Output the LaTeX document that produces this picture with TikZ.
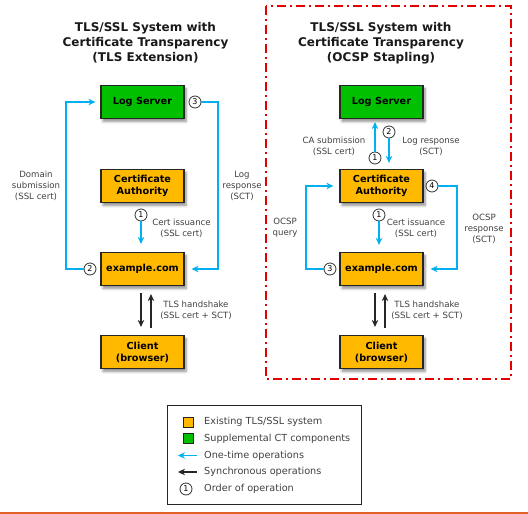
\documentclass[tikz,border=0pt]{standalone}
\usepackage{fontspec}
\setmainfont{DejaVu Sans}
\usetikzlibrary{arrows.meta,shadows,shadows.blur}
\definecolor{ctgreen}{RGB}{0,192,0}
\definecolor{ctorange}{RGB}{255,186,0}
\definecolor{ctblue}{RGB}{0,176,240}
\definecolor{ctred}{RGB}{228,0,0}
\definecolor{ctline}{RGB}{224,96,40}
\definecolor{txt}{RGB}{64,64,64}
\begin{document}
\begin{tikzpicture}[x=1pt,y=-1pt,
  box/.style={draw=black!85, line width=1.2pt, minimum width=83pt, minimum height=33pt,
    inner sep=0pt, align=center, font=\fontsize{9.7}{12}\selectfont\bfseries,
    blur shadow={shadow xshift=2pt, shadow yshift=-3pt, shadow blur radius=2.5pt, shadow blur steps=6, shadow opacity=45}},
  num/.style={circle, draw=black!80, fill=white, line width=0.8pt, inner sep=0pt,
    minimum size=12pt, font=\fontsize{8}{8}\selectfont},
  onetime/.style={draw=ctblue, line width=1.5pt, -{Stealth[length=7pt,width=6.5pt]}},
  sync/.style={draw=black!85, line width=1.5pt, -{Stealth[length=7pt,width=6.5pt]}},
  lab/.style={text=txt, align=center, font=\fontsize{8.6}{11}\selectfont},
  ttl/.style={align=center, text=black!90, font=\fontsize{12}{15}\selectfont\bfseries},
  legtxt/.style={anchor=west, text=txt, inner sep=0pt, font=\fontsize{9.7}{11}\selectfont},
  swatch/.style={draw=black!85, line width=0.8pt, minimum width=10pt, minimum height=10pt, inner sep=0pt}
]
\useasboundingbox (0,0) rectangle (528,514);

% ---------- left panel ----------
\node[ttl] (t1) at (145.5,43) {TLS/SSL System with\\Certificate Transparency\\(TLS Extension)};
\node[box, fill=ctgreen]  (ls1) at (142.5,102) {Log Server};
\node[box, fill=ctorange] (ca1) at (142.5,186) {Certificate\\Authority};
\node[box, fill=ctorange] (ex1) at (142.5,269) {example.com};
\node[box, fill=ctorange] (cl1) at (142.5,352) {Client\\(browser)};

\node[num] (n3a) at (195,102) {3};
\node[num] (n2a) at (90,269) {2};
\node[num] (n1a) at (141,215) {1};

\coordinate (r1) at (218,269);
\coordinate (l1) at (66,102);
\draw[onetime] (n3a.east) -| (r1) -- ([xshift=7pt]ex1.east);
\draw[onetime] (n2a.west) -| (l1) -- ([xshift=-5pt]ls1.west);
\draw[onetime, shorten >=8pt] (n1a) -- (n1a |- ex1.north);
\draw[sync, shorten <=7pt, shorten >=8pt] ([xshift=-1.5pt]ex1.south) -- ([xshift=-1.5pt]cl1.north);
\draw[sync, shorten <=7pt, shorten >=8pt] ([xshift=8.5pt]cl1.north) -- ([xshift=8.5pt]ex1.south);

\node[lab] (d1) at (36,186) {Domain\\submission\\(SSL cert)};
\node[lab] (lr1) at (242,186) {Log\\response\\(SCT)};
\node[lab] (ci1) at (181.5,228.5) {Cert issuance\\(SSL cert)};
\node[lab] (th1) at (196,310.5) {TLS handshake\\(SSL cert + SCT)};

% ---------- right panel ----------
\draw[ctred, line width=2pt, dash pattern=on 9pt off 4pt on 2pt off 4pt] (266,6) rectangle (511,379);
\node[ttl] (t2) at (381,43) {TLS/SSL System with\\Certificate Transparency\\(OCSP Stapling)};
\node[box, fill=ctgreen]  (ls2) at (381.5,102) {Log Server};
\node[box, fill=ctorange] (ca2) at (381.5,186) {Certificate\\Authority};
\node[box, fill=ctorange] (ex2) at (381.5,269) {example.com};
\node[box, fill=ctorange] (cl2) at (381.5,352) {Client\\(browser)};

\node[num] (n1b) at (375,158) {1};
\node[num] (n2b) at (389,132) {2};
\node[num] (n4b) at (432,186) {4};
\node[num] (n3b) at (330,269) {3};
\node[num] (n1c) at (379,215) {1};

\coordinate (r2) at (457,269);
\coordinate (l2) at (306,186);
\draw[onetime, shorten >=3pt] (n1b) -- (n1b |- ls2.south);
\draw[onetime, shorten >=6pt] (n2b) -- (n2b |- ca2.north);
\draw[onetime] (n4b.east) -| (r2) -- ([xshift=7pt]ex2.east);
\draw[onetime] (n3b.west) -| (l2) -- ([xshift=-6pt]ca2.west);
\draw[onetime, shorten >=7pt] (n1c) -- (n1c |- ex2.north);
\draw[sync, shorten <=7pt, shorten >=8pt] ([xshift=-6.5pt]ex2.south) -- ([xshift=-6.5pt]cl2.north);
\draw[sync, shorten <=7pt, shorten >=8pt] ([xshift=3.5pt]cl2.north) -- ([xshift=3.5pt]ex2.south);

\node[lab] (cs2) at (334,146.5) {CA submission\\(SSL cert)};
\node[lab] (lr2) at (431,146.5) {Log response\\(SCT)};
\node[lab] (oq2) at (285,228) {OCSP\\query};
\node[lab] (or2) at (484,229) {OCSP\\response\\(SCT)};
\node[lab] (ci2) at (416,228.5) {Cert issuance\\(SSL cert)};
\node[lab] (th2) at (427,310.5) {TLS handshake\\(SSL cert + SCT)};

% ---------- legend ----------
\node[draw=black!85, line width=1pt, minimum width=194pt, minimum height=99pt, inner sep=0pt] (leg) at (264,454.5) {};
\node[swatch, fill=ctorange] (sw1) at (188.5,422) {};
\node[swatch, fill=ctgreen]  (sw2) at (188.5,438.5) {};
\coordinate (a1s) at (197,455.5);
\coordinate (a1e) at (178,455.5);
\coordinate (a2s) at (197,472);
\coordinate (a2e) at (178,472);
\draw[onetime, line width=1.8pt] (a1s) -- (a1e);
\draw[sync, line width=1.8pt] (a2s) -- (a2e);
\node[num] (nl) at (186,489) {1};
\node[legtxt] (lt1) at (204,422) {Existing TLS/SSL system};
\node[legtxt] (lt2) at (204,438.5) {Supplemental CT components};
\node[legtxt] (lt3) at (204,455.5) {One-time operations};
\node[legtxt] (lt4) at (204,472) {Synchronous operations};
\node[legtxt] (lt5) at (204,489) {Order of operation};

\draw[ctline, line width=1.5pt] (0,513) -- (528,513);
\end{tikzpicture}
\end{document}
